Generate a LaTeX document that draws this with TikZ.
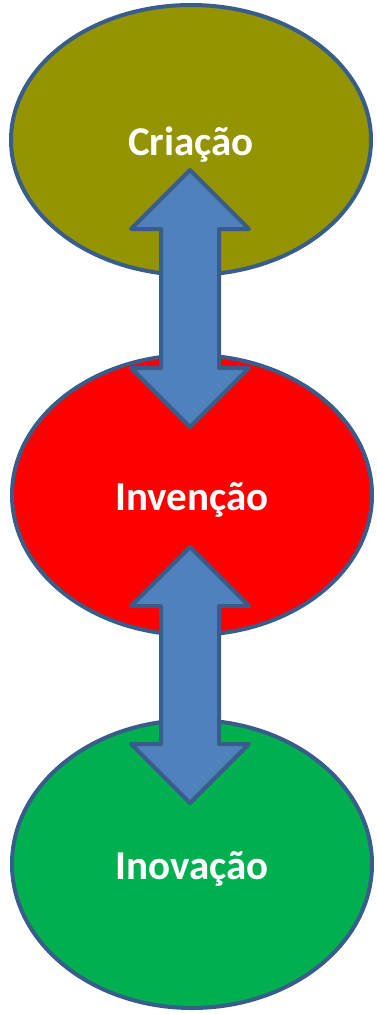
\documentclass[tikz,border=0pt]{standalone}
\usepackage{fontspec}
\setmainfont{Carlito}
\usetikzlibrary{shapes.geometric}
\definecolor{olivefill}{HTML}{949400}
\definecolor{redfill}{HTML}{FF0000}
\definecolor{greenfill}{HTML}{00B050}
\definecolor{edgeblue}{HTML}{385D8A}
\definecolor{arrowblue}{HTML}{4F81BD}
\tikzset{
  oval/.style={ellipse, draw=edgeblue, line width=4pt, inner sep=0pt,
    minimum width=360pt, text=white,
    font=\fontsize{41}{41}\selectfont\bfseries, text height=30pt, text depth=0pt},
  dblarrow/.style={draw=edgeblue, fill=arrowblue, line width=4pt, line join=round}
}
\begin{document}
\begin{tikzpicture}[x=1pt,y=-1pt]
\useasboundingbox (0,0) rectangle (377,1014);
\node[oval, fill=olivefill, minimum height=270pt] (cri) at (191,140) {Criação};
\node[oval, fill=redfill, minimum height=280pt] (inv) at (192,495) {Invenção};
\node[oval, fill=greenfill, minimum height=288pt] (ino) at (192,864) {Inovação};
\coordinate (a1) at (190,298.5);
\coordinate (a2) at (190,675);
\foreach \c/\L in {a1/128.5, a2/128} {
  \draw[dblarrow, shift={(\c)}]
    (0,-\L) -- (59,-\L+59) -- (29,-\L+59) -- (29,\L-59) -- (59,\L-59)
    -- (0,\L) -- (-59,\L-59) -- (-29,\L-59) -- (-29,-\L+59) -- (-59,-\L+59) -- cycle;
}
\end{tikzpicture}
\end{document}
